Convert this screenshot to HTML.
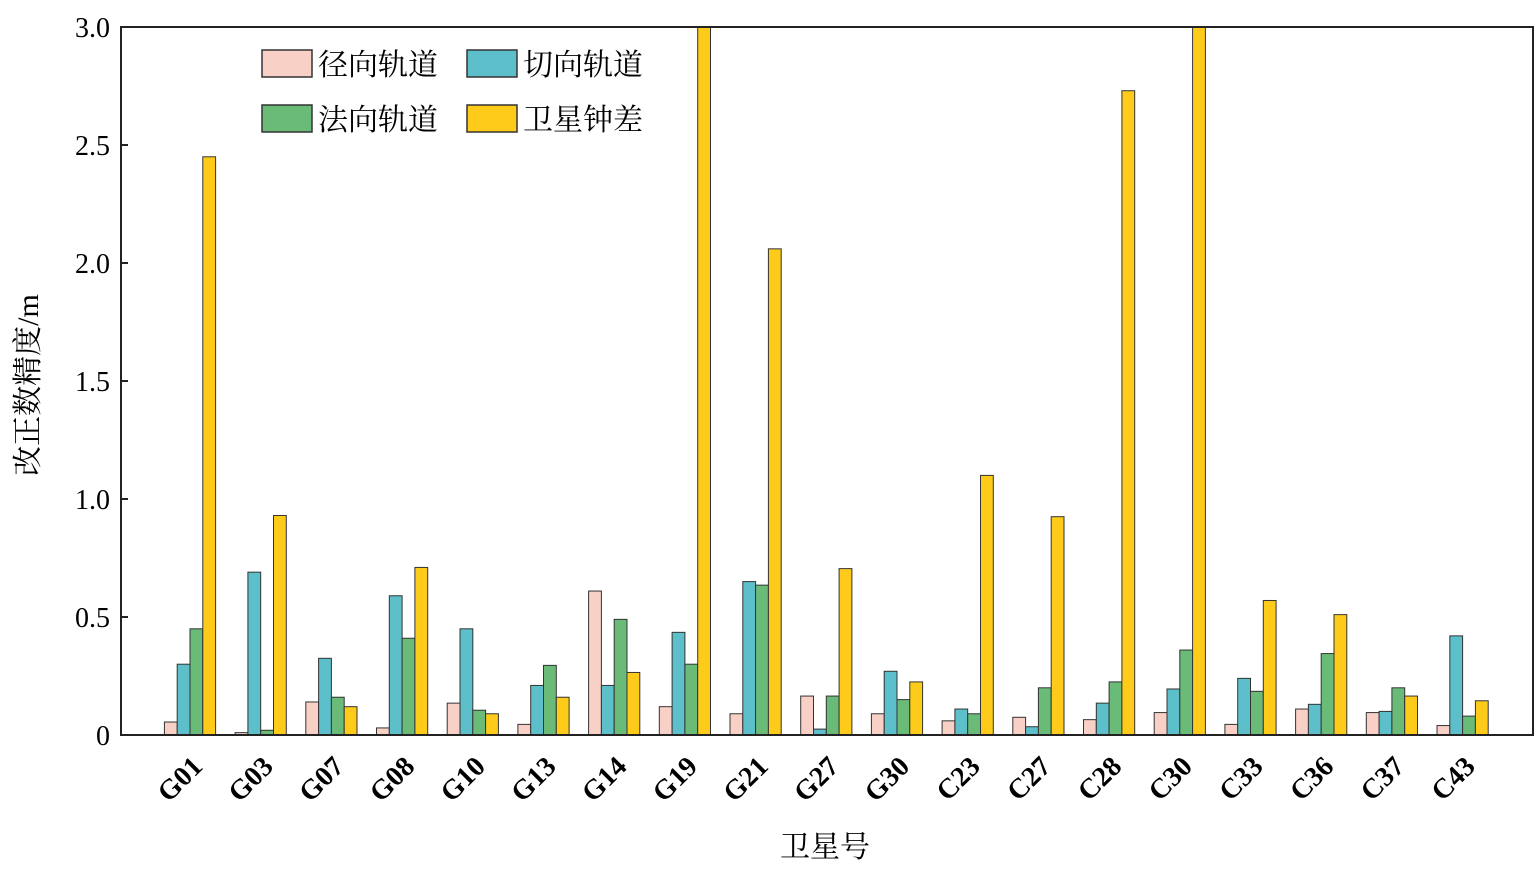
<!DOCTYPE html>
<html><head><meta charset="utf-8"><style>
body{margin:0;background:#fff}
svg text{font-family:"Liberation Serif","Noto Serif CJK SC",serif}
</style></head><body>
<svg id="chart" width="1535" height="876" xmlns="http://www.w3.org/2000/svg">
<g id="bars"></g>
<rect x="121" y="27" width="1412" height="708" fill="none" stroke="#222" stroke-width="2"/>
<g id="yticks"></g>
<g id="xticks"></g>
<text transform="translate(38,385) rotate(-90)" text-anchor="middle" font-size="30">改正数精度/m</text>
<text x="825" y="857" text-anchor="middle" font-size="30">卫星号</text>
<g font-size="30">
<rect x="262" y="50" width="50" height="27" fill="#f9d0c6" stroke="#333" stroke-width="1.5"/>
<text x="318" y="75">径向轨道</text>
<rect x="467" y="50" width="50" height="27" fill="#5dbfc9" stroke="#333" stroke-width="1.5"/>
<text x="523" y="75">切向轨道</text>
<rect x="262" y="105" width="50" height="27" fill="#6bbb78" stroke="#333" stroke-width="1.5"/>
<text x="318" y="130">法向轨道</text>
<rect x="467" y="105" width="50" height="27" fill="#fecb1a" stroke="#333" stroke-width="1.5"/>
<text x="523" y="130">卫星钟差</text>
</g>
</svg>
<script>
const categories=["G01","G03","G07","G08","G10","G13","G14","G19","G21","G27","G30","C23","C27","C28","C30","C33","C36","C37","C43"];
const radial=[0.055,0.01,0.14,0.03,0.135,0.045,0.61,0.12,0.09,0.165,0.09,0.06,0.075,0.065,0.095,0.045,0.11,0.095,0.04];
const tangential=[0.30,0.69,0.325,0.59,0.45,0.21,0.21,0.435,0.65,0.025,0.27,0.11,0.035,0.135,0.195,0.24,0.13,0.10,0.42];
const normal=[0.45,0.02,0.16,0.41,0.105,0.295,0.49,0.30,0.635,0.165,0.15,0.09,0.20,0.225,0.36,0.185,0.345,0.20,0.08];
const clock=[2.45,0.93,0.12,0.71,0.09,0.16,0.265,3.2,2.06,0.705,0.225,1.10,0.925,2.73,3.2,0.57,0.51,0.165,0.145];
const yTicks=[0,0.5,1.0,1.5,2.0,2.5,3.0];
const yTickLabels=["0","0.5","1.0","1.5","2.0","2.5","3.0"];
const series=[["radial",radial,"#f9d0c6"],["tangential",tangential,"#5dbfc9"],["normal",normal,"#6bbb78"],["clock",clock,"#fecb1a"]];
const NS="http://www.w3.org/2000/svg";
const y0=735,y1=27,vmax=3;
const ys=v=>y0-(Math.min(v,vmax)/vmax)*(y0-y1);
const xs=i=>190+i*70.7;
const bw=12.8;
const bars=document.getElementById('bars');
categories.forEach((c,i)=>{
 series.forEach((s,k)=>{
  const r=document.createElementNS(NS,'rect');
  const v=s[1][i];
  r.setAttribute('x',xs(i)-2*bw+k*bw);
  r.setAttribute('y',ys(v));
  r.setAttribute('width',bw);
  r.setAttribute('height',y0-ys(v));
  r.setAttribute('fill',s[2]);
  r.setAttribute('stroke','#333');
  r.setAttribute('stroke-width','1');
  
  
  bars.appendChild(r);
 });
 const t=document.createElementNS(NS,'text');
 t.setAttribute('transform','translate('+(xs(i)+14)+',768) rotate(-45)');
 t.setAttribute('text-anchor','end');
 t.setAttribute('font-size','28');
 t.setAttribute('font-weight','bold');
 t.textContent=c;
 
 
 document.getElementById('xticks').appendChild(t);
});
const yg=document.getElementById('yticks');
yTicks.forEach((v,i)=>{
 const t=document.createElementNS(NS,'text');
 t.setAttribute('x',110);t.setAttribute('y',ys(v)+10);
 t.setAttribute('text-anchor','end');t.setAttribute('font-size','28');
 t.textContent=yTickLabels[i];
 
 
 yg.appendChild(t);
 const l=document.createElementNS(NS,'line');
 l.setAttribute('x1',121);l.setAttribute('x2',128);l.setAttribute('y1',ys(v));l.setAttribute('y2',ys(v));
 l.setAttribute('stroke','#222');l.setAttribute('stroke-width','2');
 
 
 yg.appendChild(l);
});
</script>
</body></html>
